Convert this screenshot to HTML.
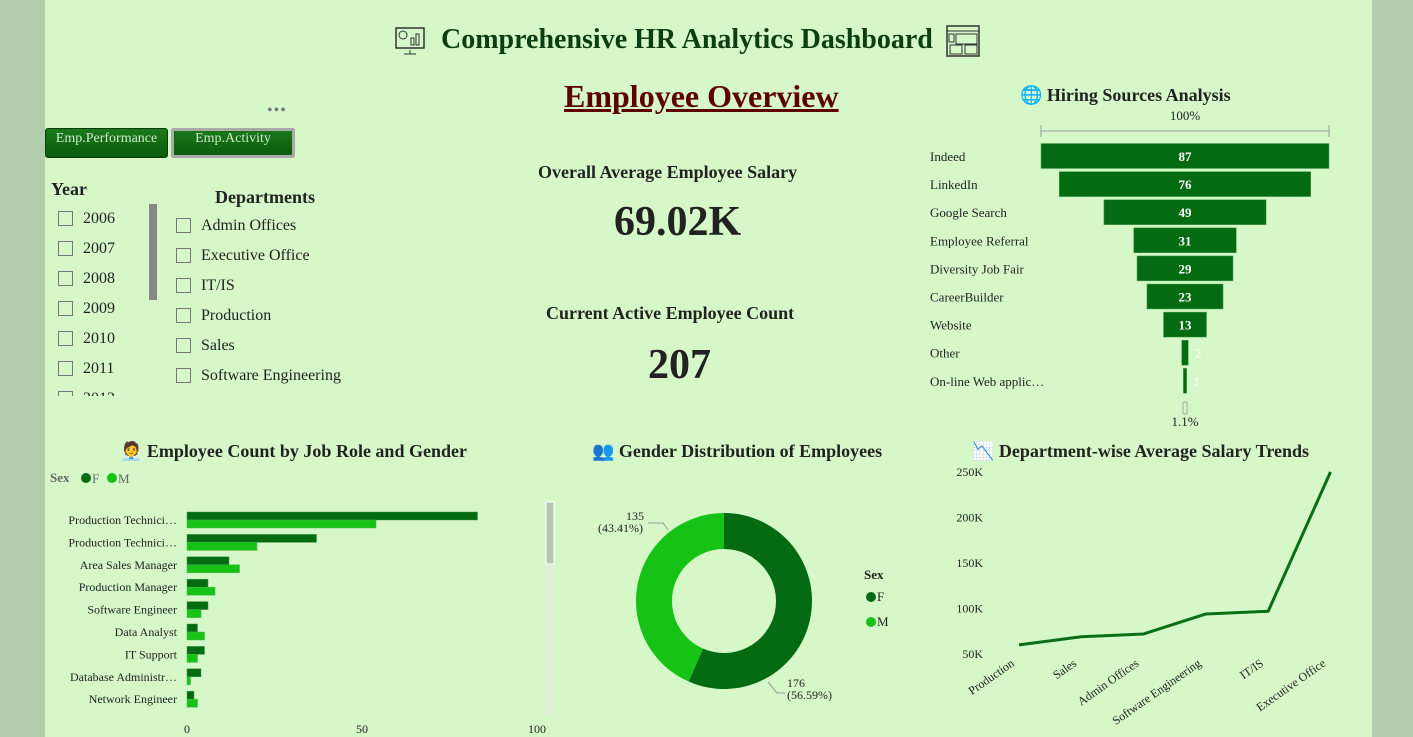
<!DOCTYPE html>
<html><head><meta charset="utf-8"><style>
body{margin:0;width:1413px;height:737px;overflow:hidden;background:#b2cdac;font-family:"Liberation Serif",serif;}
#main{position:absolute;left:45px;top:0;width:1327px;height:737px;background:#d6f8c9;}
.a{position:absolute;white-space:nowrap;}
.cb{position:absolute;width:15px;height:15px;border:1px solid #777;box-sizing:border-box;}
.lbl{position:absolute;font-size:16px;color:#222;}
.btn{position:absolute;height:30px;background:linear-gradient(#1a7a1a,#0b5a0b);border:1px solid #0a3d0a;border-radius:3px;color:#cfe9cf;font-size:14px;text-align:center;box-sizing:border-box;padding-top:2px;}
svg text{font-family:"Liberation Serif",serif;}
#years{position:absolute;left:0;top:0;width:150px;height:396px;overflow:hidden;}
</style></head><body>
<div id="main"></div>
<svg class="a" style="left:394px;top:26px" width="32" height="30"><rect x="2" y="2" width="28" height="20" fill="none" stroke="#333" stroke-width="1.5"/><circle cx="9" cy="9" r="4" fill="none" stroke="#333"/><rect x="17" y="12" width="3" height="7" fill="none" stroke="#333"/><rect x="22" y="8" width="3" height="11" fill="none" stroke="#333"/><line x1="16" y1="24" x2="16" y2="28" stroke="#333"/><line x1="10" y1="28" x2="22" y2="28" stroke="#333"/></svg>
<div class="a" style="left:441px;top:24px;font-size:28px;font-weight:bold;color:#0d3d12">Comprehensive HR Analytics Dashboard</div>
<svg class="a" style="left:946px;top:25px" width="34" height="32"><rect x="1" y="1" width="32" height="30" fill="none" stroke="#333" stroke-width="1.5"/><line x1="1" y1="6" x2="33" y2="6" stroke="#333"/><rect x="10" y="9" width="21" height="10" fill="none" stroke="#333"/><rect x="4" y="20" width="12" height="9" fill="none" stroke="#333"/><rect x="19" y="20" width="12" height="9" fill="none" stroke="#333"/><rect x="3" y="9" width="5" height="8" fill="none" stroke="#333"/></svg>
<div class="a" style="left:564px;top:78px;font-size:32px;font-weight:bold;color:#5e0000;text-decoration:underline">Employee Overview</div>
<div class="a" style="left:267px;top:102px;color:#777;font-size:16px;letter-spacing:1px">•••</div>
<div class="btn" style="left:45px;top:128px;width:123px">Emp.Performance</div>
<div class="btn" style="left:171px;top:128px;width:124px;outline:3px solid #aaa;outline-offset:-3px">Emp.Activity</div>

<div class="a" style="left:51px;top:179px;font-size:18px;font-weight:bold;color:#222">Year</div>
<div id="years"></div>
<div class="a" style="left:149px;top:204px;width:8px;height:96px;background:#888"></div>
<div class="a" style="left:215px;top:187px;font-size:18px;font-weight:bold;color:#222">Departments</div>
<div id="depts"></div>

<div class="a" style="left:538px;top:162px;font-size:18px;font-weight:bold;color:#222">Overall Average Employee Salary</div>
<div class="a" style="left:614px;top:198px;font-size:42px;font-weight:bold;color:#222">69.02K</div>
<div class="a" style="left:546px;top:303px;font-size:18px;font-weight:bold;color:#222">Current Active Employee Count</div>
<div class="a" style="left:648px;top:341px;font-size:42px;font-weight:bold;color:#222">207</div>

<div class="a" style="left:1020px;top:85px;font-size:18px;font-weight:bold;color:#222"><span style="color:#3aa0e0">🌐</span> Hiring Sources Analysis</div>
<svg id="funnel" class="a" style="left:920px;top:100px" width="420" height="335"></svg>

<div class="a" style="left:120px;top:441px;font-size:18px;font-weight:bold;color:#222">🧑‍💼 Employee Count by Job Role and Gender</div>
<svg id="bars" class="a" style="left:45px;top:465px" width="515" height="272"></svg>

<div class="a" style="left:592px;top:441px;font-size:18px;font-weight:bold;color:#222"><span style="color:#5a2a8a">👥</span> Gender Distribution of Employees</div>
<svg id="donut" class="a" style="left:580px;top:470px" width="340" height="260"></svg>

<div class="a" style="left:972px;top:441px;font-size:18px;font-weight:bold;color:#222">📉 Department-wise Average Salary Trends</div>
<svg id="line" class="a" style="left:930px;top:460px" width="420" height="277"></svg>

<script>
const NS="http://www.w3.org/2000/svg";
function mk(p,t,at,txt){const e=document.createElementNS(NS,t);for(const k in at)e.setAttribute(k,at[k]);if(txt!=null)e.textContent=txt;p.appendChild(e);return e;}
const years=["2006","2007","2008","2009","2010","2011","2012"];
const depts=["Admin Offices","Executive Office","IT/IS","Production","Sales","Software Engineering"];
const yc=document.getElementById('years');
years.forEach((y,i)=>{const c=document.createElement('div');c.className='cb';c.style.left='58px';c.style.top=(211+i*30)+'px';

yc.appendChild(c);
const l=document.createElement('div');l.className='lbl';l.style.left='83px';l.style.top=(210+i*30)+'px';l.textContent=y;

yc.appendChild(l);});
const dc=document.getElementById('depts');
depts.forEach((d,i)=>{const c=document.createElement('div');c.className='cb';c.style.left='176px';c.style.top=(218+i*30)+'px';

dc.appendChild(c);
const l=document.createElement('div');l.className='lbl';l.style.left='201px';l.style.top=(217+i*30)+'px';l.textContent=d;

dc.appendChild(l);});

const sources=["Indeed","LinkedIn","Google Search","Employee Referral","Diversity Job Fair","CareerBuilder","Website","Other","On-line Web applic…"];
const sourceCounts=[87,76,49,31,29,23,13,2,1];
const f=document.getElementById('funnel');
const fx=c=>c/87*288, fcx=265;
mk(f,'line',{x1:121,y1:31,x2:409,y2:31,stroke:'#999'});mk(f,'line',{x1:121,y1:25,x2:121,y2:37,stroke:'#999'});mk(f,'line',{x1:409,y1:25,x2:409,y2:37,stroke:'#999'});
mk(f,'text',{x:fcx,y:20,'text-anchor':'middle','font-size':13,fill:'#222'},'100%');
sources.forEach((s,i)=>{const cy=56+i*28.1,w=fx(sourceCounts[i]);
mk(f,'text',{x:10,y:cy+5,'font-size':13,fill:'#222'},s);
const r=mk(f,'rect',{x:fcx-w/2,y:cy-12.5,width:w,height:25,fill:'#046b12',stroke:'#5aa85a','stroke-width':0.5});


const inside=w>30;
mk(f,'text',{x:inside?fcx:fcx+w/2+10,y:cy+5,'text-anchor':'middle','font-size':13,fill:'#fff','font-weight':inside?'bold':'normal'},sourceCounts[i]);});
mk(f,'rect',{x:fcx-2,y:302,width:4,height:12,fill:'none',stroke:'#aaa'});
mk(f,'text',{x:fcx,y:326,'text-anchor':'middle','font-size':13,fill:'#222'},'1.1%');

const roles=["Production Technici…","Production Technici…","Area Sales Manager","Production Manager","Software Engineer","Data Analyst","IT Support","Database Administr…","Network Engineer"];
const femaleCounts=[83,37,12,6,6,3,5,4,2];
const maleCounts=[54,20,15,8,4,5,3,1,3];
const bTicks=[0,50,100];
const b=document.getElementById('bars');
const bx=v=>142+v*3.5;
mk(b,'text',{x:5,y:17,'font-size':13,fill:'#666','font-weight':'bold'},'Sex');
mk(b,'circle',{cx:41,cy:13,r:5,fill:'#046b12'});mk(b,'text',{x:47,y:18,'font-size':13,fill:'#666'},'F');
mk(b,'circle',{cx:67,cy:13,r:5,fill:'#15c215'});mk(b,'text',{x:73,y:18,'font-size':13,fill:'#666'},'M');
roles.forEach((r,i)=>{const cy=55+i*22.4;
mk(b,'text',{x:132,y:cy+4,'text-anchor':'end','font-size':12,fill:'#222'},r);
const r1=mk(b,'rect',{x:bx(0),y:cy-8,width:bx(femaleCounts[i])-bx(0),height:8,fill:'#046b12',stroke:'#4a9a4a','stroke-width':0.5});


const r2=mk(b,'rect',{x:bx(0),y:cy,width:bx(maleCounts[i])-bx(0),height:8,fill:'#15c215',stroke:'#4ab84a','stroke-width':0.5});

});
bTicks.forEach(t=>mk(b,'text',{x:bx(t),y:268,'text-anchor':'middle','font-size':12,fill:'#222'},t));
mk(b,'rect',{x:501,y:37,width:8,height:213,fill:'#e2edd8'});
mk(b,'rect',{x:501,y:37,width:8,height:62,fill:'#b8c8b0',stroke:'#fff'});

const genders=["F","M"];
const genderCounts=[176,135];
const d=document.getElementById('donut');
const cx=144,cy=131,R=88,r0=52,tot=genderCounts.reduce((a,c)=>a+c,0);
const cols=['#046b12','#15c215'];let ang=0;
genderCounts.forEach((v,i)=>{const a0=ang,a1=ang+v/tot*2*Math.PI;ang=a1;
const p=(a,rr)=>[cx+rr*Math.sin(a),cy-rr*Math.cos(a)];const lg=a1-a0>Math.PI?1:0;
const [x0,y0]=p(a0,R),[x1,y1]=p(a1,R),[x2,y2]=p(a1,r0),[x3,y3]=p(a0,r0);
const s=mk(d,'path',{d:`M${x0},${y0}A${R},${R} 0 ${lg} 1 ${x1},${y1}L${x2},${y2}A${r0},${r0} 0 ${lg} 0 ${x3},${y3}Z`,fill:cols[i]});

});
mk(d,'polyline',{points:'188,212 197,223 205,223',fill:'none',stroke:'#999'});
mk(d,'text',{x:207,y:217,'font-size':12,fill:'#222'},genderCounts[0]);
mk(d,'text',{x:207,y:229,'font-size':12,fill:'#222'},'('+(genderCounts[0]/tot*100).toFixed(2)+'%)');
mk(d,'polyline',{points:'68,53 83,53 88,60',fill:'none',stroke:'#999'});
mk(d,'text',{x:46,y:50,'font-size':12,fill:'#222'},genderCounts[1]);
mk(d,'text',{x:18,y:62,'font-size':12,fill:'#222'},'('+(genderCounts[1]/tot*100).toFixed(2)+'%)');
mk(d,'text',{x:284,y:109,'font-size':13,'font-weight':'bold',fill:'#222'},'Sex');
genders.forEach((g,i)=>{mk(d,'circle',{cx:291,cy:127+i*25,r:5,fill:cols[i]});mk(d,'text',{x:297,y:131+i*25,'font-size':13,fill:'#222'},g);});

const deptOrder=["Production","Sales","Admin Offices","Software Engineering","IT/IS","Executive Office"];
const avgSalaryK=[60,69,72,94,97,250];
const yTicks=[50,100,150,200,250];
const l=document.getElementById('line');
const ly=v=>12+(250-v)*0.91, lx=i=>89+i*62.3;
yTicks.forEach(t=>mk(l,'text',{x:53,y:ly(t)+4,'text-anchor':'end','font-size':12,fill:'#222'},t+'K'));
deptOrder.forEach((n,i)=>{const x=lx(i)-4,y=205;mk(l,'text',{x:x,y:y,'text-anchor':'end','font-size':12,fill:'#222',transform:`rotate(-35 ${x} ${y})`},n);});
const ln=mk(l,'polyline',{points:avgSalaryK.map((v,i)=>lx(i)+','+ly(v)).join(' '),fill:'none',stroke:'#0a6e14','stroke-width':3,'stroke-linejoin':'round'});


</script>
</body></html>
